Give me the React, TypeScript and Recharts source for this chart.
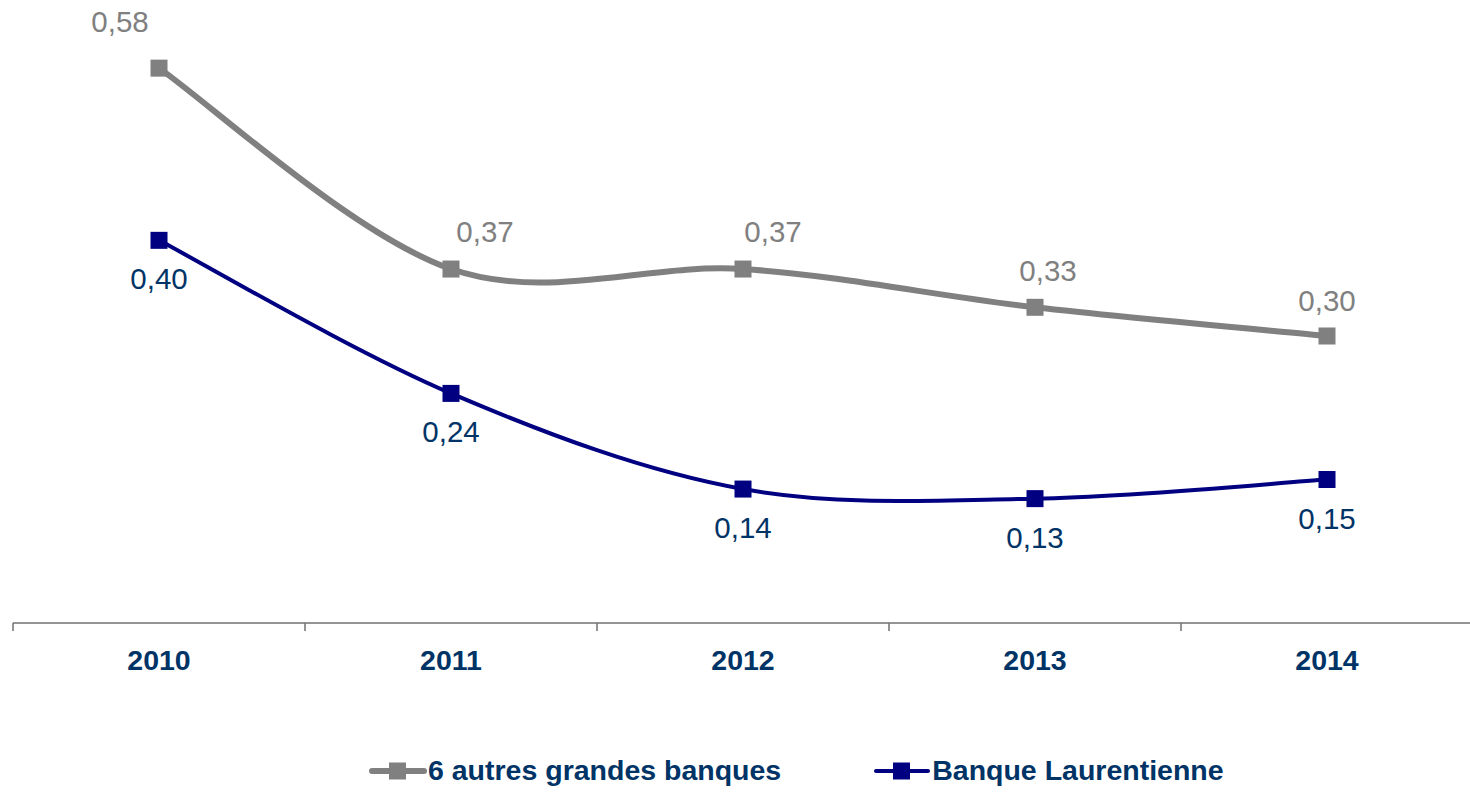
import React from "react";
import { LineChart, Line, XAxis, YAxis, Legend, LabelList } from "recharts";

const years = ["2010", "2011", "2012", "2013", "2014"];
const autresBanques = [0.58, 0.37, 0.37, 0.33, 0.3];
const banqueLaurentienne = [0.4, 0.24, 0.14, 0.13, 0.15];

const GRAY = "#808080";
const NAVY = "#000080";
const TEXT_BLUE = "#003366";
const FONT = "'Liberation Sans', Arial, sans-serif";

const W = 1470;
const H = 793;
const LEFT = 13;
const RIGHT = -3;
const BAND = (W - LEFT - RIGHT) / years.length;

// gray labels were nudged by hand in the original
const grayLabelDx = [-39, 34, 30, 13, 0];
const grayLabelDy = [-46, -37, -37, -36, -35];

const chartData = years.map((year, i) => ({
  year,
  autres: autresBanques[i],
  laurentienne: banqueLaurentienne[i],
}));

const fmt = (v: number) => v.toFixed(2).replace(".", ",");

// Excel-style smoothed line (Catmull-Rom, endpoints doubled)
function excelCurve(context: any) {
  let pts: number[][] = [];
  return {
    areaStart() {},
    areaEnd() {},
    lineStart() {
      pts = [];
    },
    point(x: number, y: number) {
      pts.push([+x, +y]);
    },
    lineEnd() {
      const n = pts.length;
      if (!n) return;
      context.moveTo(pts[0][0], pts[0][1]);
      for (let i = 0; i < n - 1; i++) {
        const p0 = pts[Math.max(i - 1, 0)];
        const p1 = pts[i];
        const p2 = pts[i + 1];
        const p3 = pts[Math.min(i + 2, n - 1)];
        context.bezierCurveTo(
          p1[0] + (p2[0] - p0[0]) / 6,
          p1[1] + (p2[1] - p0[1]) / 6,
          p2[0] - (p3[0] - p1[0]) / 6,
          p2[1] - (p3[1] - p1[1]) / 6,
          p2[0],
          p2[1]
        );
      }
    },
  };
}

const squareDot = (color: string) => (props: any) => {
  const { cx, cy, index } = props;
  if (cx == null || cy == null) return <g key={`d-${index}`} />;
  return <rect key={`d-${index}`} x={cx - 8.5} y={cy - 8.5} width={17} height={17} fill={color} />;
};

const YearTick = (props: any) => {
  const { x, y, payload } = props;
  return (
    <g>
      <line x1={x - BAND / 2} x2={x - BAND / 2} y1={y - 8} y2={y} stroke="#707070" strokeWidth={1.5} />
      <text x={x} y={y + 39} textAnchor="middle" fill={TEXT_BLUE} fontFamily={FONT} fontSize={28.5} fontWeight="bold">
        {payload.value}
      </text>
    </g>
  );
};

const GrayLabel = (props: any) => {
  const { x, y, value, index } = props;
  return (
    <text x={x + grayLabelDx[index]} y={y + grayLabelDy[index] + 10} textAnchor="middle" fill={GRAY} fontFamily={FONT} fontSize={29.5}>
      {fmt(value)}
    </text>
  );
};

const BlueLabel = (props: any) => {
  const { x, y, value } = props;
  return (
    <text x={x} y={y + 39 + 10} textAnchor="middle" fill={TEXT_BLUE} fontFamily={FONT} fontSize={29.5}>
      {fmt(value)}
    </text>
  );
};

const LegendIcon = ({ color, thick }: { color: string; thick: number }) => (
  <svg width={58} height={22} style={{ display: "block" }}>
    <line x1={3} x2={55} y1={11} y2={11} stroke={color} strokeWidth={thick} strokeLinecap="round" />
    <rect x={20} y={2.5} width={17} height={17} fill={color} />
  </svg>
);

const renderLegend = () => (
  <div style={{ display: "flex", alignItems: "center", paddingLeft: 369, fontFamily: FONT, fontSize: 28.5, fontWeight: "bold", color: TEXT_BLUE }}>
    <LegendIcon color={GRAY} thick={6} />
    <span style={{ marginLeft: 1 }}>6 autres grandes banques</span>
    <span style={{ width: 92 }} />
    <LegendIcon color={NAVY} thick={4} />
    <span style={{ marginLeft: 1 }}>Banque Laurentienne</span>
  </div>
);

export default function App() {
  return (
    <div style={{ position: "absolute", left: 0, top: 0, width: W, height: H, background: "#fff", overflow: "hidden" }}>
      <LineChart width={W} height={H} data={chartData} margin={{ top: 49, right: RIGHT, left: LEFT, bottom: 0 }}>
        <XAxis
          dataKey="year"
          scale="band"
          interval={0}
          height={170}
          tickSize={8}
          tickMargin={0}
          tickLine={false}
          axisLine={{ stroke: "#707070", strokeWidth: 1.5 }}
          tick={<YearTick />}
        />
        <YAxis hide domain={[0, 0.6]} />
        <Legend
          verticalAlign="middle"
          align="center"
          content={renderLegend}
          wrapperStyle={{ top: 754, left: 0, width: W }}
        />
        <Line
          dataKey="autres"
          name="6 autres grandes banques"
          type={excelCurve as any}
          stroke={GRAY}
          strokeWidth={6}
          dot={squareDot(GRAY)}
          activeDot={false}
          isAnimationActive={false}
        >
          <LabelList dataKey="autres" content={<GrayLabel />} />
        </Line>
        <Line
          dataKey="laurentienne"
          name="Banque Laurentienne"
          type={excelCurve as any}
          stroke={NAVY}
          strokeWidth={4}
          dot={squareDot(NAVY)}
          activeDot={false}
          isAnimationActive={false}
        >
          <LabelList dataKey="laurentienne" content={<BlueLabel />} />
        </Line>
      </LineChart>
    </div>
  );
}
